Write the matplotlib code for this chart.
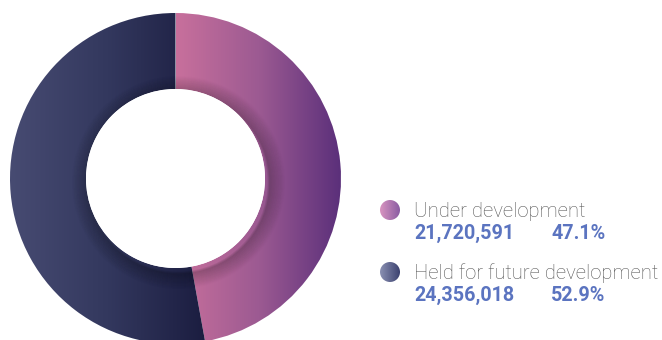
import numpy as np
import matplotlib.pyplot as plt
from matplotlib.patches import Wedge, Circle
from matplotlib.colors import LinearSegmentedColormap

labels = ["Under development", "Held for future development"]
values = [21720591, 24356018]
value_labels = ["21,720,591", "24,356,018"]
pct_labels = ["47.1%", "52.9%"]

# gradient colours per slice (left -> right)
slice_colors = [["#c8709c", "#9c5a92", "#5a2f7a"],
                ["#474b72", "#33385e", "#1b1d40"]]
dot_colors = [["#d894c0", "#8a5ca2"], ["#8a90b2", "#3c4270"]]

W, H = 662, 340
fig = plt.figure(figsize=(W / 100, H / 100), dpi=100)
ax = fig.add_axes([0, 0, 1, 1])
ax.set_xlim(0, W)
ax.set_ylim(0, H)
ax.set_aspect("equal")
ax.axis("off")

cx, cy = 175.5, H - 178.5
r_out, r_in = 165.5, 89.5

total = sum(values)
start = 90.0
xx = np.linspace(0, 1, 256).reshape(1, -1)
for vals, cols in zip(values, slice_colors):
    sweep = 360.0 * vals / total
    w = Wedge((cx, cy), r_out, start - sweep, start, width=r_out - r_in,
              facecolor="none", edgecolor="none")
    ax.add_patch(w)
    # horizontal gradient over the slice's own extent
    ext = w.get_path().get_extents()
    cmap = LinearSegmentedColormap.from_list("g", cols)
    im = ax.imshow(xx, cmap=cmap, aspect="auto", interpolation="bilinear",
                   extent=[ext.x0, ext.x1, cy - r_out, cy + r_out], zorder=1)
    im.set_clip_path(w)
    start -= sweep

# soft shadow around the hole
ring = Wedge((cx, cy), r_out, 0, 360, width=r_out - r_in, facecolor="none",
             edgecolor="none")
ax.add_patch(ring)
for k in range(16):
    c = Circle((cx + 3, cy - 4), r_in + 1 + k, facecolor="none",
               edgecolor="black", linewidth=2, alpha=0.09 * (1 - k / 16), zorder=2)
    ax.add_patch(c)
    c.set_clip_path(ring)
ax.add_patch(Circle((cx, cy), r_in, facecolor="white", edgecolor="none", zorder=3))

# legend
ys = [H - 217, H - 279]
for lab, v, p, dc, y in zip(labels, value_labels, pct_labels, dot_colors, ys):
    dot = Circle((390, y + 7), 10, facecolor="none", edgecolor="none")
    ax.add_patch(dot)
    cmap = LinearSegmentedColormap.from_list("d", dc)
    im = ax.imshow(xx, cmap=cmap, aspect="auto", interpolation="bilinear",
                   extent=[380, 400, y - 3, y + 17], zorder=4)
    im.set_clip_path(dot)
    ax.text(414, y, lab, fontsize=14.6, color="#555555", family="Roboto",
            fontweight="light", va="baseline", ha="left")
    ax.text(414, y - 22, v, fontsize=14.2, color="#5b74c0", family="Roboto",
            fontweight="bold", va="baseline", ha="left")
    ax.text(551, y - 22, p, fontsize=14.2, color="#5b74c0", family="Roboto",
            fontweight="bold", va="baseline", ha="left")

fig.savefig("out.png", dpi=100)
